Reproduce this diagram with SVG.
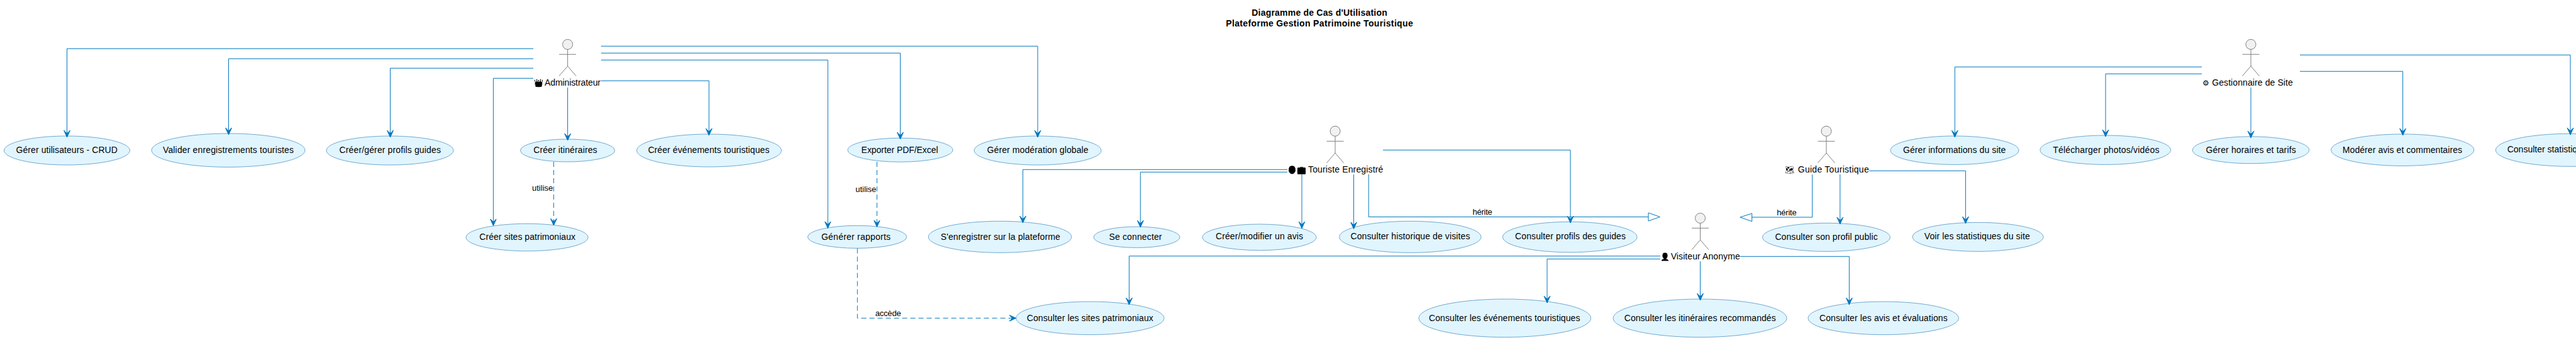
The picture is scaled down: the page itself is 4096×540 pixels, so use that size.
<svg xmlns="http://www.w3.org/2000/svg" width="4096" height="540" viewBox="0 0 4096 540">
<style>
text{font-family:"Liberation Sans",Arial,sans-serif;font-size:14px;fill:#000}
.t{font-weight:bold}
.l{font-size:13px}
.i{font-size:12px;filter:grayscale(1) brightness(0)}
.uc ellipse{fill:#E1F5FE;stroke:#6FA8D0;stroke-width:1}
.actor ellipse{fill:#F1F1F1;stroke:#808080;stroke-width:1}
.actor path{fill:none;stroke:#808080;stroke-width:1}
.c path{fill:none;stroke:#0277BD;stroke-width:1}
.c .d{stroke-dasharray:8,5}
.c .a{marker-end:url(#h)}
.c polygon{fill:none;stroke:#0277BD;stroke-width:1}
</style>
<defs>
<marker id="h" markerUnits="userSpaceOnUse" markerWidth="14" markerHeight="14" refX="11" refY="7" orient="auto">
<path d="M11,7 L0,2 L5,7 L0,12 Z" fill="#0277BD" stroke="#0277BD" stroke-width="1"/>
</marker>
</defs>
<rect width="4096" height="540" fill="#fff"/>
<g id="title">
<text class="t" x="1990.3" y="25" textLength="215.4">Diagramme de Cas d'Utilisation</text>
<text class="t" x="1949.3" y="42" textLength="297.4">Plateforme Gestion Patrimoine Touristique</text>
</g>
<g id="uc-gerer-utilisateurs" class="uc"><ellipse cx="106.5" cy="239" rx="100" ry="23"/><text x="25.5" y="243" textLength="161.4">Gérer utilisateurs - CRUD</text></g>
<g id="uc-valider" class="uc"><ellipse cx="363" cy="238.7" rx="122" ry="26.7"/><text x="259" y="243" textLength="208">Valider enregistrements touristes</text></g>
<g id="uc-profils-guides" class="uc"><ellipse cx="620" cy="239" rx="101" ry="23"/><text x="539.5" y="243" textLength="161.4">Créer/gérer profils guides</text></g>
<g id="uc-itineraires" class="uc"><ellipse cx="902.5" cy="239" rx="75" ry="18"/><text x="848.2" y="243" textLength="101.4">Créer itinéraires</text></g>
<g id="uc-evenements" class="uc"><ellipse cx="1127.5" cy="239" rx="115" ry="26"/><text x="1030.4" y="243" textLength="193">Créer événements touristiques</text></g>
<g id="uc-exporter" class="uc"><ellipse cx="1431.5" cy="238.2" rx="83.5" ry="19"/><text x="1369.6" y="242.5" textLength="122">Exporter PDF/Excel</text></g>
<g id="uc-moderation" class="uc"><ellipse cx="1650" cy="239" rx="101" ry="23"/><text x="1569.6" y="243" textLength="161">Gérer modération globale</text></g>
<g id="uc-sites" class="uc"><ellipse cx="838" cy="377" rx="97" ry="21.7"/><text x="762.3" y="381" textLength="152.7">Créer sites patrimoniaux</text></g>
<g id="uc-rapports" class="uc"><ellipse cx="1363" cy="376.3" rx="78.7" ry="18"/><text x="1306" y="380.5" textLength="110">Générer rapports</text></g>
<g id="uc-enregistrer" class="uc"><ellipse cx="1590" cy="376.3" rx="113.8" ry="25"/><text x="1495.7" y="381" textLength="190">S'enregistrer sur la plateforme</text></g>
<g id="uc-connecter" class="uc"><ellipse cx="1807.5" cy="376.7" rx="68.5" ry="16.7"/><text x="1763.5" y="381" textLength="84">Se connecter</text></g>
<g id="uc-avis" class="uc"><ellipse cx="2002.5" cy="376.8" rx="90.5" ry="20.8"/><text x="1933" y="380" textLength="139">Créer/modifier un avis</text></g>
<g id="uc-historique" class="uc"><ellipse cx="2242.3" cy="376.3" rx="112.7" ry="25"/><text x="2147.4" y="380" textLength="190">Consulter historique de visites</text></g>
<g id="uc-profils" class="uc"><ellipse cx="2496.2" cy="376.5" rx="106.8" ry="24.2"/><text x="2409" y="380" textLength="176">Consulter profils des guides</text></g>
<g id="uc-son-profil" class="uc"><ellipse cx="2904" cy="376.8" rx="101.4" ry="22.5"/><text x="2822.4" y="381" textLength="163.3">Consulter son profil public</text></g>
<g id="uc-voir-stats" class="uc"><ellipse cx="3145" cy="376.3" rx="104" ry="23"/><text x="3059.7" y="380" textLength="168">Voir les statistiques du site</text></g>
<g id="uc-c-sites" class="uc"><ellipse cx="1733.3" cy="505.3" rx="117.7" ry="26.3"/><text x="1632.8" y="509.5" textLength="201">Consulter les sites patrimoniaux</text></g>
<g id="uc-c-evenements" class="uc"><ellipse cx="2392.8" cy="505.3" rx="136.8" ry="30.3"/><text x="2272" y="509.5" textLength="240.5">Consulter les événements touristiques</text></g>
<g id="uc-c-itineraires" class="uc"><ellipse cx="2703" cy="505.3" rx="138" ry="30.3"/><text x="2582.7" y="509.5" textLength="241">Consulter les itinéraires recommandés</text></g>
<g id="uc-c-avis" class="uc"><ellipse cx="2994.7" cy="505.3" rx="119.7" ry="26.3"/><text x="2893" y="509.5" textLength="203.7">Consulter les avis et évaluations</text></g>
<g id="uc-infos-site" class="uc"><ellipse cx="3108" cy="238.7" rx="102" ry="22.7"/><text x="3025.9" y="243" textLength="163.5">Gérer informations du site</text></g>
<g id="uc-photos" class="uc"><ellipse cx="3347.7" cy="238.2" rx="103.8" ry="23.2"/><text x="3264.2" y="243" textLength="169.2">Télécharger photos/vidéos</text></g>
<g id="uc-horaires" class="uc"><ellipse cx="3579" cy="238.3" rx="92.7" ry="21.4"/><text x="3507.4" y="242.5" textLength="143.3">Gérer horaires et tarifs</text></g>
<g id="uc-moderer" class="uc"><ellipse cx="3820.2" cy="238.2" rx="113.6" ry="25.2"/><text x="3724.8" y="242.5" textLength="190.2">Modérer avis et commentaires</text></g>
<g id="uc-c-stats" class="uc"><ellipse cx="4087" cy="238.3" rx="118.7" ry="26"/><text x="3986.7" y="241.8" textLength="134">Consulter statistiques</text></g>

<g id="connectors" class="c">
<path class="a" d="M848,77.3H106.5V218"/>
<path class="a" d="M848,93.3H363.5V214"/>
<path class="a" d="M848,108.3H620.5V218"/>
<path class="a" d="M848,124.3H784.4V358.5"/>
<path class="a" d="M902.6,139V223"/>
<path class="a" d="M955.7,73.3H1650V218"/>
<path class="a" d="M955.7,84.3H1431.5V221"/>
<path class="a" d="M955.7,95.3H1316.3V362.5"/>
<path class="a" d="M955.7,128.3H1127.3V215"/>
<path class="a d" d="M880.4,257V358"/>
<path class="a d" d="M1394.4,257V360.5"/>
<path class="a d" d="M1363.3,394.5V505.3H1615.6"/>
<path class="a" d="M2047,269.3H1626.4V354"/>
<path class="a" d="M2047,273.3H1813.3V361"/>
<path d="M2070,277V362.7" class="a"/>
<path d="M2152.5,277V363.5" class="a"/>
<path class="a" d="M2199,238.3H2497V354"/>
<path d="M2176.2,277V344.5H2621"/>
<polygon points="2621,338 2639.4,344.5 2621,351"/>
<path d="M2881.7,277V345H2785.7"/>
<polygon points="2785.7,339 2767,345 2785.7,351.7"/>
<path class="a" d="M2925.8,277V356"/>
<path class="a" d="M2972,271.3H3125.4V355"/>
<path class="a" d="M2640,406.7H1795.4V484"/>
<path class="a" d="M2640,411.3H2460V481"/>
<path class="a" d="M2703.5,415V477"/>
<path class="a" d="M2767,407.3H2940.4V484"/>
<path class="a" d="M3501,106.3H3108.3V218"/>
<path class="a" d="M3501,117.3H3348V217"/>
<path class="a" d="M3579,139V219"/>
<path class="a" d="M3657,113.3H3820.6V215"/>
<path class="a" d="M3657,87.3H4087V214"/>
<text class="l" x="846" y="303" textLength="33.3">utilise</text>
<text class="l" x="1360.3" y="305" textLength="33">utilise</text>
<text class="l" x="1391.7" y="501.7" textLength="41">accède</text>
<text class="l" x="2341.6" y="341" textLength="31.2">hérite</text>
<text class="l" x="2825.3" y="341.7" textLength="31.4">hérite</text>
</g>

<g id="actor-admin" class="actor"><ellipse cx="902.6" cy="70.5" rx="8" ry="8"/><path d="M902.6,78.5V105M889,86.3H916M889,120.7L902.6,105L916,120.7"/><text class="i" x="849" y="135.5">👑</text><text x="866" y="135.5" textLength="89">Administrateur</text></g>
<g id="actor-touriste" class="actor"><ellipse cx="2123" cy="208.3" rx="8" ry="8"/><path d="M2123,216.3V243M2109.5,224.3H2136.5M2109.5,258.7L2123,243L2136.5,258.7"/><text class="i" x="2047" y="273.7">👨💼</text><text x="2080" y="273.7" textLength="119.3">Touriste Enregistré</text></g>
<g id="actor-guide" class="actor"><ellipse cx="2904" cy="208.3" rx="8" ry="8"/><path d="M2904,216.3V243M2890.5,224.3H2917.5M2890.5,258.7L2904,243L2917.5,258.7"/><text class="i" x="2838" y="273.7">🗺</text><text x="2858.8" y="273.7" textLength="112.9">Guide Touristique</text></g>
<g id="actor-visiteur" class="actor"><ellipse cx="2703.5" cy="346.5" rx="8" ry="8"/><path d="M2703.5,354.5V381M2690,362.3H2717M2690,396.7L2703.5,381L2717,396.7"/><text class="i" x="2639.5" y="411.7">👤</text><text x="2656.7" y="411.7" textLength="110">Visiteur Anonyme</text></g>
<g id="actor-gestionnaire" class="actor"><ellipse cx="3579" cy="70.5" rx="8" ry="8"/><path d="M3579,78.5V105M3565.5,86.3H3592.5M3565.5,120.7L3579,105L3592.5,120.7"/><text x="3502" y="136" style="font-size:12px">⚙</text><text x="3517.2" y="136" textLength="128.6">Gestionnaire de Site</text></g>
</svg>
